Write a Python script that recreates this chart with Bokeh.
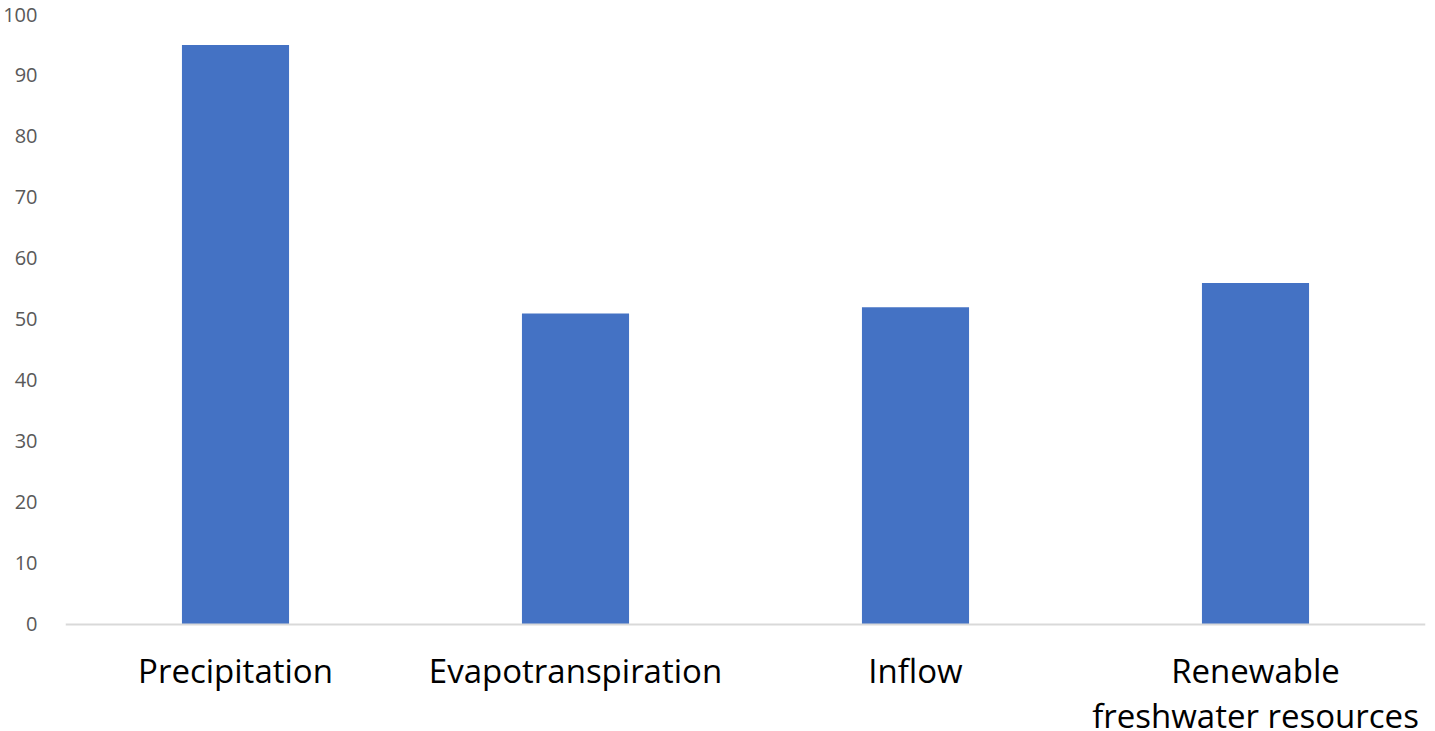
from bokeh.plotting import figure
from bokeh.models import FactorRange, Range1d, ColumnDataSource, FixedTicker, Span
from bokeh.core.properties import value
from bokeh.embed import file_html
from bokeh.resources import INLINE

categories = ["Precipitation", "Evapotranspiration", "Inflow", "Renewable\nfreshwater resources"]
values = [95, 51, 52, 56]
y_ticks = [0, 10, 20, 30, 40, 50, 60, 70, 80, 90, 100]

source = ColumnDataSource(data=dict(cat=categories, val=values))

# frame extends below zero so the category labels (drawn as text glyphs) fit in the window
p = figure(width=1435, height=731, x_range=FactorRange(*categories, range_padding=0),
           y_range=Range1d(-17.55, 100), output_backend="svg", toolbar_location=None,
           min_border_left=65, min_border_right=10, min_border_top=14, min_border_bottom=0)
p.vbar(x="cat", top="val", width=0.315, source=source, color="#4472C4", line_color=None)

p.grid.visible = False
p.outline_line_color = None

p.yaxis.ticker = FixedTicker(ticks=y_ticks)
p.yaxis.axis_line_color = None
p.yaxis.major_tick_line_color = None
p.yaxis.minor_tick_line_color = None
p.yaxis.major_label_text_font = "Open Sans"
p.yaxis.major_label_text_font_size = "20px"
p.yaxis.major_label_text_color = "#595959"
p.yaxis.major_label_standoff = 22

p.xaxis.visible = False
p.add_layout(Span(location=0, dimension="width", line_color="#d9d9d9", line_width=2))

p.text(x="cat", y=0, text="cat", source=source, y_offset=24,
       text_align="center", text_baseline="top",
       text_font=value("Open Sans"), text_font_size="33px", text_color="#000000",
       text_line_height=1.0)

open("out.html", "w").write(file_html(p, INLINE))
